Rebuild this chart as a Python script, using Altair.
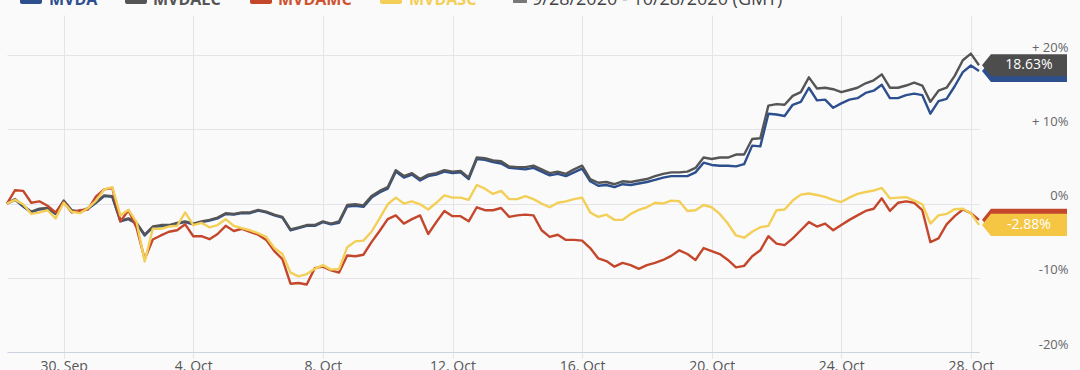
import altair as alt
import pandas as pd

# ---------------- data ----------------
series_names = ["MVDA", "MVDALC", "MVDAMC", "MVDASC"]
line_colors = ["#2d4f8e", "#555555", "#c4472c", "#f3cf57"]
box_colors = ["#2d4f8e", "#4d4d4d", "#c4472c", "#f5c644"]
legend_text_colors = ["#2d4f8e", "#555555", "#d0532f", "#f3cf57"]
range_text = "9/28/2020 - 10/28/2020 (GMT)"
x_tick_dates = ["2020-09-30", "2020-10-04", "2020-10-08", "2020-10-12",
                "2020-10-16", "2020-10-20", "2020-10-24", "2020-10-28"]
y_ticks = [-20, -10, 0, 10, 20]

mvda = [0.0, 0.5, -0.4, -1.2, -0.8, -0.7, -1.4, 0.3, -1.0, -1.2,
        -0.7, 0.1, 1.0, 0.9, -2.4, -2.1, -2.7, -4.3, -3.2, -3.05,
        -3.0, -2.7, -2.5, -2.8, -2.5, -2.3, -2.0, -1.4, -1.5, -1.3,
        -1.3, -0.95, -1.2, -1.6, -1.9, -3.6, -3.3, -3.0, -3.0, -2.5,
        -2.8, -2.6, -0.4, -0.3, -0.45, 0.8, 1.5, 2.0, 4.3, 3.5,
        3.9, 3.1, 3.7, 3.9, 4.3, 4.1, 4.2, 3.3, 6.0, 5.9,
        5.6, 5.4, 4.8, 4.7, 4.6, 4.8, 4.3, 3.8, 4.0, 3.7,
        4.2, 4.7, 3.0, 2.4, 2.5, 2.2, 2.6, 2.5, 2.7, 2.9,
        3.2, 3.5, 3.7, 3.7, 3.7, 4.2, 5.5, 5.2, 5.1, 5.1,
        5.0, 5.3, 7.8, 7.7, 12.1, 12.0, 11.8, 13.3, 13.7, 15.6,
        13.9, 14.0, 12.9, 13.5, 14.0, 14.2, 14.9, 15.2, 16.0, 14.2,
        14.2, 14.6, 14.8, 14.6, 12.1, 13.8, 14.1, 15.8, 17.7, 18.6,
        17.86]
mvdalc = [0.0, 0.6, -0.3, -1.1, -0.7, -0.6, -1.3, 0.4, -0.9, -1.1,
          -0.6, 0.2, 1.1, 1.0, -2.3, -2.0, -2.6, -4.2, -3.1, -2.9,
          -2.9, -2.6, -2.4, -2.7, -2.4, -2.2, -1.9, -1.3, -1.4, -1.2,
          -1.2, -0.85, -1.1, -1.5, -1.8, -3.5, -3.2, -2.9, -2.9, -2.4,
          -2.7, -2.4, -0.2, -0.1, -0.25, 1.0, 1.7, 2.2, 4.5, 3.7,
          4.1, 3.3, 3.9, 4.1, 4.5, 4.3, 4.4, 3.5, 6.2, 6.1,
          5.8, 5.7, 5.0, 4.9, 4.9, 5.1, 4.6, 4.1, 4.3, 4.0,
          4.6, 5.1, 3.3, 2.8, 2.9, 2.6, 3.0, 2.9, 3.1, 3.3,
          3.7, 4.0, 4.2, 4.2, 4.3, 4.8, 6.2, 6.0, 6.2, 6.2,
          6.6, 6.6, 8.7, 8.8, 13.2, 13.4, 13.3, 14.5, 15.0, 17.0,
          15.5, 15.6, 15.4, 15.0, 15.3, 15.6, 16.2, 16.6, 17.4, 15.6,
          15.6, 15.9, 16.3, 15.9, 13.7, 15.2, 15.6, 17.2, 19.3, 20.2,
          18.63]
mvdamc = [0.0, 1.8, 1.7, 0.1, 0.3, -0.3, -1.2, 0.2, -1.2, -0.9,
          -0.8, 0.95, 1.9, 2.1, -2.4, -0.9, -3.3, -7.5, -4.85, -4.3,
          -3.8, -3.6, -2.8, -4.4, -4.4, -4.8, -4.1, -3.0, -3.7, -3.4,
          -3.8, -4.2, -4.9, -6.4, -7.5, -10.8, -10.7, -10.9, -8.7, -8.5,
          -9.0, -9.3, -7.0, -7.1, -6.9, -5.2, -3.7, -2.1, -1.6, -2.7,
          -2.1, -1.6, -4.1, -2.5, -1.0, -1.7, -1.7, -2.4, -0.5, -0.9,
          -0.9, -0.6, -1.8, -1.6, -1.5, -1.6, -3.6, -4.5, -4.2, -4.9,
          -4.9, -5.0, -6.0, -7.4, -7.75, -8.5, -8.0, -8.3, -8.8, -8.3,
          -8.0, -7.6, -7.05, -6.3, -6.8, -7.6, -6.0, -6.4, -6.8, -7.6,
          -8.6, -8.4, -7.1, -6.3, -4.4, -5.4, -5.6, -4.7, -3.6, -2.5,
          -3.1, -2.7, -3.6, -2.9, -2.2, -1.6, -1.0, -0.7, 0.7, -1.0,
          0.1, 0.3, 0.1, -0.9, -5.2, -4.7, -2.8, -1.7, -0.8, -1.3,
          -2.2]
mvdasc = [0.0, 0.5, -0.1, -1.4, -1.2, -0.9, -2.0, 0.1, -1.1, -1.3,
          -0.6, 0.4, 1.9, 2.2, -1.6, -0.85, -2.5, -7.8, -3.4, -3.4,
          -3.1, -3.0, -1.2, -2.9, -2.6, -3.2, -2.9, -2.1, -3.0, -3.3,
          -3.6, -4.0, -4.5, -6.0, -6.8, -9.3, -9.8, -9.5, -8.8, -8.3,
          -8.9, -8.8, -5.9, -5.1, -5.0, -3.8, -2.0, -0.1, 0.8, 0.0,
          0.3, -0.1, -0.8, 0.1, 1.1, 0.8, 0.8, 0.5, 2.5, 2.0,
          1.3, 1.7, 0.6, 0.6, 1.0, 0.6, 0.0, -0.5, 0.1, 0.3,
          0.6, 0.8, -1.2, -1.8, -1.5, -2.2, -2.2, -1.4, -0.85, -0.5,
          0.1, 0.0, 0.4, 0.3, -1.0, -0.9, -0.2, -0.5, -1.4, -2.7,
          -4.3, -4.6, -3.8, -3.2, -3.0, -0.9, -0.8, 0.4, 1.2, 1.35,
          1.15, 0.9, 0.5, 0.2, 0.8, 1.3, 1.55, 1.75, 2.1, 0.7,
          0.8, 0.85, 0.4, -0.1, -2.7, -1.6, -1.4, -0.75, -0.7, -1.3,
          -2.88]

series_values = [mvda, mvdalc, mvdamc, mvdasc]

# sampling times: every 6 hours (UTC) starting 28 Sep 06:00
times = pd.date_range("2020-09-28 06:00", periods=len(mvda), freq="6h", tz="UTC")
time_str = [t.strftime("%Y-%m-%dT%H:%M:%SZ") for t in times]

frames = []
for name, vals in zip(series_names, series_values):
    frames.append(pd.DataFrame({"t": time_str, "v": vals, "series": name}))
df = pd.concat(frames, ignore_index=True)

last = pd.DataFrame({
    "series": series_names,
    "v": [vals[-1] for vals in series_values],
    "label": [f"{vals[-1]:.2f}%" for vals in series_values],
})

# ---------------- layout ----------------
PAD_L, PAD_T, PAD_R, PAD_B = 7, 15, 101, 18
W, H = 972, 337
FONT = "Open Sans"


def dt(s, hours=0):
    y, m, d = (int(p) for p in s.split("-"))
    return alt.DateTime(year=y, month=m, date=d, hours=hours, utc=True)


x_enc = alt.X(
    "t:T",
    title=None,
    scale=alt.Scale(type="utc", domain=[dt("2020-09-28", 6), dt("2020-10-28", 6)], nice=False),
    axis=alt.Axis(
        values=[dt(s) for s in x_tick_dates],
        labelExpr="utcFormat(datum.value, '%-d. %b')",
        grid=True,
        gridColor="#e4e4e8",
        domainColor="#ccd3e0",
        tickColor="#e4e4e8",
        tickSize=6,
        labelPadding=1,
        labelFont=FONT,
        labelFontSize=14,
        labelColor="#555555",
        labelFlush=False,
        labelOverlap=False,
    ),
)

y_enc = alt.Y(
    "v:Q",
    title=None,
    scale=alt.Scale(domain=[-20, 25.4], nice=False, zero=False),
    axis=alt.Axis(
        orient="right",
        values=y_ticks,
        grid=True,
        gridColor="#e4e4e8",
        domain=False,
        ticks=False,
        tickSize=0,
        labelAlign="right",
        labelBaseline="middle",
        labelPadding=89,
        labelOffset=-8,
        labelFont=FONT,
        labelFontSize=13,
        labelColor="#666666",
        labelFlush=False,
        labelExpr="datum.value > 0 ? '+ ' + datum.value + '%' : datum.value + '%'",
    ),
)

layers = []
for name, col in zip(series_names, line_colors):
    layers.append(
        alt.Chart(df)
        .transform_filter(alt.datum.series == name)
        .mark_line(color=col, strokeWidth=2.4, strokeJoin="round")
        .encode(x=x_enc, y=y_enc)
    )

# end-of-line value flags
flag_path = "M -1 0 L -0.79 -0.26 L 1 -0.26 L 1 0.26 L -0.79 0.26 Z"
for name, col in zip(series_names, box_colors):
    sub = last[last.series == name]
    layers.append(
        alt.Chart(sub)
        .mark_point(shape=flag_path, size=7225, filled=True, opacity=1, color=col, strokeWidth=0)
        .encode(x=alt.value(1024.5 - PAD_L), y=y_enc)
    )
    layers.append(
        alt.Chart(sub)
        .mark_text(font=FONT, fontSize=14, color="white", align="center", baseline="middle")
        .encode(x=alt.value(1029 - PAD_L), y=y_enc, text="label:N")
    )

# legend row at top (partly cut off by the top edge)
legend_swatch_x = [20, 125, 250, 380]
legend_text_x = [49, 153, 278, 409]
for name, col, tcol, sx, tx in zip(series_names, line_colors, legend_text_colors,
                                   legend_swatch_x, legend_text_x):
    one = pd.DataFrame({"name": [name]})
    layers.append(
        alt.Chart(one)
        .mark_rect(color=col, cornerRadius=2)
        .encode(x=alt.value(sx - PAD_L), x2=alt.value(sx + 22 - PAD_L),
                y=alt.value(-21), y2=alt.value(-11))
    )
    layers.append(
        alt.Chart(one)
        .mark_text(font=FONT, fontSize=16, fontWeight="bold", color=tcol,
                   align="left", baseline="alphabetic")
        .encode(x=alt.value(tx - PAD_L), y=alt.value(-10.5), text="name:N")
    )

rng = pd.DataFrame({"txt": [range_text]})
layers.append(
    alt.Chart(rng)
    .mark_rect(color="#777777", cornerRadius=1)
    .encode(x=alt.value(513 - PAD_L), x2=alt.value(527 - PAD_L),
            y=alt.value(-24), y2=alt.value(-12))
)
layers.append(
    alt.Chart(rng)
    .mark_text(font=FONT, fontSize=18, color="#444444", align="left", baseline="alphabetic")
    .encode(x=alt.value(532 - PAD_L), y=alt.value(-10.5), text="txt:N")
)

chart = (
    alt.layer(*layers)
    .properties(
        width=W,
        height=H,
        padding={"left": PAD_L, "top": PAD_T, "right": PAD_R, "bottom": PAD_B},
        autosize=alt.AutoSizeParams(type="none"),
        background="#fafafb",
    )
    .configure_view(strokeWidth=0)
)

chart.save("out.html", embed_options={"renderer": "svg", "actions": False})
